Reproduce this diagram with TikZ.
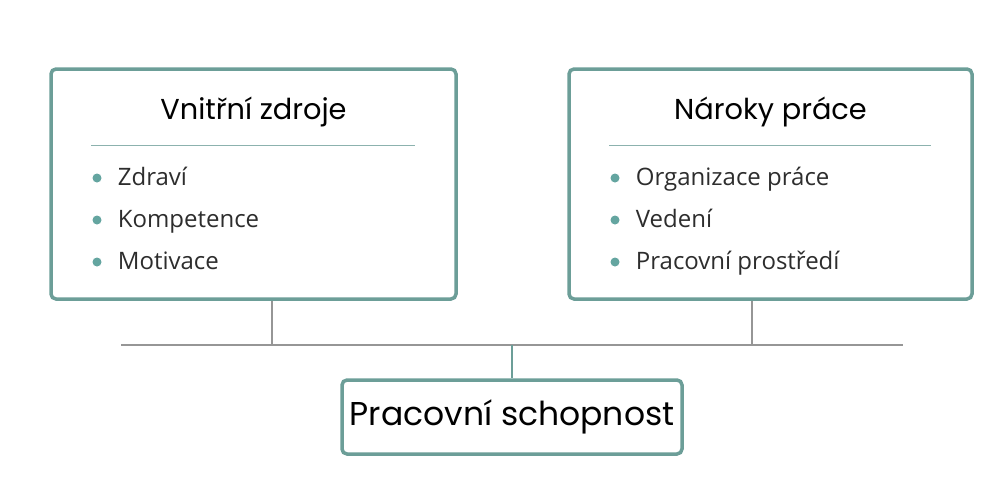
\documentclass[tikz,border=0pt]{standalone}
\usepackage{fontspec}
\usepackage{tikz}
\usetikzlibrary{positioning, calc}
\newfontfamily\titlefont{Poppins}
\newfontfamily\itemfont{Open Sans}
\definecolor{frameTeal}{RGB}{108, 158, 152}
\definecolor{dotTeal}{RGB}{100, 165, 160}
\definecolor{ruleTeal}{RGB}{140, 178, 174}
\definecolor{busGray}{RGB}{150, 150, 150}
\definecolor{itemGray}{RGB}{45, 45, 45}

\begin{document}
\begin{tikzpicture}[
                x=1pt, y=1pt,
                panel/.style={rectangle, rounded corners=5pt, draw=frameTeal, line width=3.5pt, fill=white, minimum width=405pt, minimum height=230pt},
                heading/.style={font=\titlefont\fontsize{28.8}{34}\selectfont, text=black},
                entry/.style={inner sep=0pt, font=\itemfont\fontsize{24}{28}\selectfont, text=itemGray},
                dot/.style={circle, fill=dotTeal, inner sep=0pt, minimum size=9pt},
                sepline/.style={draw=ruleTeal, line width=1pt},
                bus/.style={draw=busGray, line width=1.5pt},
                stem/.style={draw=frameTeal, line width=2pt}
            ]
                \useasboundingbox (0,0) rectangle (1004,-493);

                % the two upper panels
                \node[panel] (lbox) at (253.5,-184) {};
                \node[panel, minimum width=403pt] (rbox) at (770.5,-184) {};

                \node[heading, below=26pt of lbox.north] (ltitle) {Vnitřní zdroje};
                \node[heading, below=26pt of rbox.north] (rtitle) {Nároky práce};

                \draw[sepline] ($(lbox.north west)+(42,-78)$) -- ($(lbox.north east)+(-43,-78)$);
                \draw[sepline] ($(rbox.north west)+(42,-78)$) -- ($(rbox.north east)+(-43,-78)$);

                % bullet lists
                \foreach \txt [count=\i] in {Zdraví, Kompetence, Motivace} {
                    \node[dot] (ldot\i) at (97,-136-42*\i) {};
                    \node[entry, right=16pt of ldot\i, anchor=base west, yshift=-7pt] (litem\i) {\txt};
                }
                \foreach \txt [count=\i] in {Organizace práce, Vedení, Pracovní prostředí} {
                    \node[dot] (rdot\i) at (615,-136-42*\i) {};
                    \node[entry, right=16pt of rdot\i, anchor=base west, yshift=-7pt] (ritem\i) {\txt};
                }

                % result
                \node[panel, minimum width=340pt, minimum height=74pt] (result) at (512,-417)
                    {\titlefont\fontsize{33}{38}\selectfont Pracovní schopnost};

                % connectors
                \coordinate (busL) at (121,-345);
                \coordinate (busR) at (903,-345);
                \coordinate (lstem) at ([xshift=18.5pt]lbox.south);
                \coordinate (rstem) at ([xshift=-18.5pt]rbox.south);
                \draw[bus] (busL) -- (busR);
                \draw[bus] (lstem) -- (lstem |- busL);
                \draw[bus] (rstem) -- (rstem |- busL);
                \draw[stem] (result.north |- busL) -- (result.north);
            \end{tikzpicture}
\end{document}
